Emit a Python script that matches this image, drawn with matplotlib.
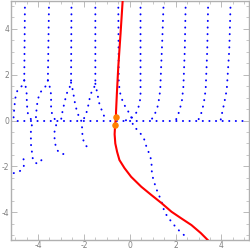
"""
Level curves (blue dotted), a path (red) and two saddle points (orange).
"""

import matplotlib

matplotlib.use("Agg")
import matplotlib.pyplot as plt
from matplotlib.ticker import MultipleLocator

# real axis, also a level curve
axis_curve = [(-5.2, 0.0), (5.2, 0.0)]

# columns left of the path: each one forks near y = 1.5
col_a_up = [(-4.57, 5.2), (-4.6, 1.75), (-4.68, 1.52), (-4.8, 1.42), (-4.9, 1.3),
            (-4.97, 1.08), (-5.01, 0.82), (-5.03, 0.55), (-5.06, 0.29), (-5.07, 0.0)]
col_a_down = [(-4.6, 1.75), (-4.53, 1.43), (-4.49, 1.12), (-4.49, 0.82), (-4.47, 0.55),
              (-4.44, 0.29), (-4.35, 0.12), (-4.27, 0.0), (-4.27, -0.23), (-4.31, -0.49),
              (-4.31, -0.76), (-4.31, -1.02), (-4.27, -1.32), (-4.25, -1.59),
              (-4.16, -1.82), (-4.02, -1.88), (-3.9, -1.8), (-3.79, -1.63)]
col_a_low = [(-5.06, -2.29), (-4.79, -2.2), (-4.62, -2.03), (-4.62, -1.72), (-4.71, -1.46)]

col_b_up = [(-3.52, 5.2), (-3.57, 1.75), (-3.66, 1.5), (-3.8, 1.34), (-3.92, 1.2),
            (-3.98, 1.0), (-4.04, 0.7), (-4.07, 0.42), (-4.09, 0.15), (-4.1, 0.0)]
col_b_down = [(-3.57, 1.75), (-3.48, 1.43), (-3.43, 1.12), (-3.43, 0.82), (-3.43, 0.55),
              (-3.39, 0.29), (-3.31, 0.12), (-3.23, 0.0), (-3.21, -0.23), (-3.28, -0.49),
              (-3.28, -0.76), (-3.25, -1.02), (-3.17, -1.28), (-3.05, -1.42),
              (-2.9, -1.46), (-2.73, -1.37)]

col_c_up = [(-2.54, 5.2), (-2.56, 1.65), (-2.62, 1.45), (-2.7, 1.3), (-2.77, 1.1),
            (-2.84, 0.8), (-2.9, 0.55), (-2.95, 0.3), (-3.0, 0.0)]
col_c_down = [(-2.56, 1.65), (-2.48, 1.3), (-2.43, 1.0), (-2.38, 0.7), (-2.3, 0.4),
              (-2.2, 0.12), (-2.12, 0.0), (-2.08, -0.3), (-2.07, -0.55), (-2.03, -0.84),
              (-1.94, -1.06), (-1.84, -1.17), (-1.72, -1.2)]

col_d_up = [(-1.50, 5.2), (-1.50, 1.6), (-1.56, 1.42), (-1.66, 1.25), (-1.73, 1.05),
            (-1.78, 0.8), (-1.83, 0.55), (-1.9, 0.3), (-2.0, 0.08), (-2.05, 0.0)]
col_d_down = [(-1.50, 1.6), (-1.45, 1.35), (-1.4, 1.12), (-1.36, 0.86), (-1.30, 0.65),
              (-1.21, 0.42), (-1.11, 0.17), (-1.05, 0.0)]

# column next to the path, running on below the axis to the bottom right
col_e = [(-0.5, 5.2), (-0.48, 1.7), (-0.45, 1.4), (-0.42, 1.2), (-0.35, 0.95),
         (-0.25, 0.7), (-0.1, 0.45), (0.05, 0.2), (0.1, 0.0), (0.15, -0.25),
         (0.34, -0.41), (0.51, -0.62), (0.64, -0.84), (0.73, -1.15), (0.82, -1.37),
         (0.91, -1.63), (0.95, -1.89), (0.96, -2.2), (1.01, -2.49), (1.08, -2.73),
         (1.16, -2.98), (1.27, -3.24), (1.38, -3.51), (1.52, -4.0), (1.84, -4.44),
         (2.0, -4.63), (2.18, -4.82), (2.37, -4.99)]

# columns right of the path, bending left onto the axis
col_f = [(0.47, 5.2), (0.47, 1.0), (0.42, 0.75), (0.35, 0.45), (0.2, 0.2), (0.0, 0.06),
         (-0.2, 0.0)]
col_g = [(1.48, 5.2), (1.45, 4.4), (1.42, 3.54), (1.37, 2.37), (1.33, 1.33), (1.27, 0.9),
         (1.2, 0.54), (1.08, 0.25), (0.96, 0.06), (0.93, 0.0)]
col_h = [(2.44, 5.2), (2.40, 3.09), (2.34, 1.49), (2.28, 0.9), (2.18, 0.47), (2.08, 0.17),
         (2.0, 0.0)]
col_i = [(3.42, 5.2), (3.38, 3.09), (3.31, 1.34), (3.23, 0.76), (3.13, 0.35), (3.01, 0.07),
         (2.98, 0.0)]
col_j = [(4.40, 5.2), (4.34, 3.09), (4.23, 1.34), (4.12, 0.76), (4.04, 0.39), (3.98, 0.1),
         (3.96, 0.0)]

blue_curves = [axis_curve, col_a_up, col_a_down, col_a_low, col_b_up, col_b_down,
               col_c_up, col_c_down, col_d_up, col_d_down, col_e, col_f, col_g,
               col_h, col_i, col_j]

path_x = [-0.31, -0.40, -0.50, -0.56, -0.60, -0.60, -0.64, -0.66, -0.63, -0.55, -0.45,
          -0.23, 0.06, 0.5, 0.94, 1.38, 1.82, 2.25, 2.69, 3.1, 3.4]
path_y = [5.2, 3.8, 2.34, 1.2, 0.34, 0.14, -0.21, -0.6, -1.0, -1.37, -1.72, -2.07,
          -2.45, -2.88, -3.24, -3.59, -3.97, -4.26, -4.55, -4.9, -5.2]

saddle_x = [-0.60, -0.64]
saddle_y = [0.14, -0.21]

tick_values = [-4, -2, 0, 2, 4]
tick_labels = ["-4", "-2", "0", "2", "4"]


def main():
    fig = plt.figure(figsize=(2.5, 2.5), dpi=100)
    ax = fig.add_axes([0.042, 0.04, 0.954, 0.956])

    for curve in blue_curves:
        xs, ys = zip(*curve)
        ax.plot(xs, ys, color="#0000ff", lw=1.4, dashes=(0.1, 3.3),
                dash_capstyle="round", solid_capstyle="round")

    ax.plot(path_x, path_y, color="#ff0000", lw=1.5, zorder=3)
    ax.scatter(saddle_x, saddle_y, s=22, color="#ff8000", zorder=4, linewidths=0)

    ax.set_xlim(-5.2, 5.2)
    ax.set_ylim(-5.2, 5.2)
    ax.xaxis.set_minor_locator(MultipleLocator(0.5))
    ax.yaxis.set_minor_locator(MultipleLocator(0.5))
    ax.tick_params(which="both", direction="in", top=True, right=True, color="#b0b0b0",
                   labelcolor="#808080", labelsize=5.5, pad=1.0)
    ax.tick_params(which="major", length=4, width=0.6)
    ax.tick_params(which="minor", length=2, width=0.5)
    ax.set_xticks(tick_values)
    ax.set_xticklabels(tick_labels)
    ax.set_yticks(tick_values)
    ax.set_yticklabels(tick_labels)
    for s in ax.spines.values():
        s.set_color("#b0b0b0")
        s.set_linewidth(1.0)

    fig.savefig("out.png", dpi=100)


if __name__ == "__main__":
    main()
